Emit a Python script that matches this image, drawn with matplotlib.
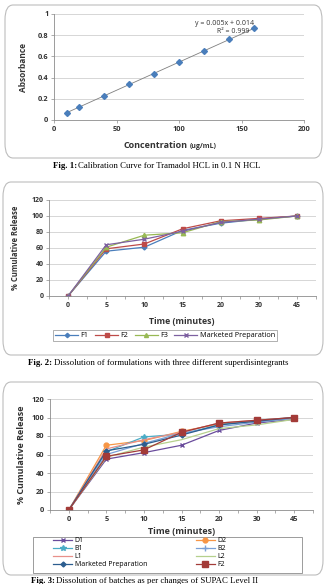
import matplotlib.pyplot as plt
import numpy as np
from matplotlib.patches import FancyBboxPatch, Rectangle

# Fig 1 data: calibration curve
conc = np.array([10, 20, 40, 60, 80, 100, 120, 140, 160])
absorb = np.array([0.068, 0.125, 0.225, 0.335, 0.437, 0.543, 0.652, 0.760, 0.866])

# Fig 2 / Fig 3 time points (categorical)
times = ['0', '5', '10', '15', '20', '30', '45']

# Fig 2 data
f1 = [0, 56, 61, 82, 91, 96, 100]
f2 = [0, 59, 65, 84, 94, 97, 100]
f3 = [0, 61, 76, 79, 93, 95, 100]
mkt = [0, 64, 71, 81, 92, 96, 100]

# Fig 3 data
d1 = [0, 55, 62, 70, 86, 94, 98]
d2 = [0, 70, 75, 85, 93, 96, 100]
b1 = [0, 63, 79, 82, 92, 97, 100]
b2 = [0, 60, 72, 83, 90, 95, 99]
l1 = [0, 66, 76, 84, 94, 97, 100]
l2 = [0, 57, 68, 76, 88, 92, 98]
mkt3 = [0, 64, 71, 81, 92, 96, 100]
f2_3 = [0, 58, 65, 84, 94, 97, 100]

plt.rcParams['font.family'] = ['Open Sans', 'DejaVu Sans']

W, H = 326, 584
fig = plt.figure(figsize=(W / 100, H / 100), dpi=100)


def fx(x):
    return x / W


def fy(y):
    return 1 - y / H


def add_axes(left, right, top, bottom):
    ax = fig.add_axes([fx(left), fy(bottom), fx(right - left), (bottom - top) / H])
    ax.patch.set_alpha(0)
    return ax


def box(left, right, top, bottom):
    p = FancyBboxPatch((fx(left), fy(bottom)), fx(right - left), (bottom - top) / H,
                       boxstyle='round,pad=0,rounding_size=0.025', transform=fig.transFigure,
                       facecolor='white', edgecolor='#bdbdbd', linewidth=0.8, zorder=-5)
    fig.patches.append(p)


def style(ax, fs=5):
    for s in ['top', 'right']:
        ax.spines[s].set_visible(False)
    for s in ['left', 'bottom']:
        ax.spines[s].set_color('#8c8c8c')
        ax.spines[s].set_linewidth(0.6)
    ax.grid(axis='y', color='#d0d0d0', linewidth=0.6)
    ax.set_axisbelow(True)
    ax.tick_params(labelsize=fs, length=2, width=0.5, color='#8c8c8c', pad=2)
    for t in ax.get_xticklabels() + ax.get_yticklabels():
        t.set_fontweight('bold')
        t.set_color('#333333')


def caption(xsplit, y, bold, rest):
    fig.text(fx(xsplit), fy(y), bold, ha='right', va='center', fontsize=6.3,
             family='Liberation Serif', fontweight='bold')
    fig.text(fx(xsplit + 1.5), fy(y), rest, ha='left', va='center', fontsize=6.3,
             family='Liberation Serif')


# ---------- Fig 1 ----------
box(5, 322, 5, 158)
ax1 = add_axes(54, 304, 14, 120)
coef = np.polyfit(conc, absorb, 1)
ax1.plot(conc, np.polyval(coef, conc), color='#7f7f7f', linewidth=0.6, zorder=2)
ax1.plot(conc, absorb, 'D', color='#4a7ebb', markersize=3, zorder=3)
ax1.set_xlim(0, 200)
ax1.set_ylim(0, 1)
ax1.set_xticks([0, 50, 100, 150, 200])
ax1.set_yticks([0, 0.2, 0.4, 0.6, 0.8, 1])
ax1.set_yticklabels(['0', '0.2', '0.4', '0.6', '0.8', '1'])
ax1.tick_params(axis='x', length=0)
style(ax1, 5.3)
ax1.text(160, 0.875, 'y = 0.005x + 0.014', ha='right', va='bottom', fontsize=5, color='#333333')
ax1.text(143, 0.87, 'R² = 0.999', ha='center', va='top', fontsize=5, color='#333333')
fig.text(fx(23), fy(67), 'Absorbance', rotation=90, ha='center', va='center',
         fontsize=6, fontweight='bold', color='#333333')
fig.text(fx(188), fy(146), 'Concentration', ha='right', va='center',
         fontsize=6.5, fontweight='bold', color='#333333')
fig.text(fx(190), fy(146.5), '(ug/mL)', ha='left', va='center',
         fontsize=5, fontweight='bold', color='#333333')
caption(77, 166, 'Fig. 1:', 'Calibration Curve for Tramadol HCL in 0.1 N HCL')

# ---------- Fig 2 ----------
box(3, 323, 182, 355)
ax2 = add_axes(49, 316, 200, 296)
x = np.arange(len(times))
ax2.plot(x, f1, '-D', color='#4a7ebb', markersize=2.5, linewidth=0.9, label='F1')
ax2.plot(x, f2, '-s', color='#be4b48', markersize=3.2, linewidth=0.9, label='F2')
ax2.plot(x, f3, '-^', color='#98b954', markersize=3.2, linewidth=0.9, label='F3')
ax2.plot(x, mkt, '-x', color='#7d60a0', markersize=3, linewidth=0.9, label='Marketed Preparation')
ax2.set_xlim(-0.5, 6.5)
ax2.set_ylim(0, 120)
ax2.set_yticks(range(0, 121, 20))
ax2.set_xticks(x)
ax2.set_xticklabels(times)
ax2.set_xticks(np.arange(-0.5, 7, 1), minor=True)
ax2.tick_params(axis='x', which='major', length=0)
ax2.tick_params(axis='x', which='minor', length=2, width=0.5, color='#8c8c8c')
style(ax2)
fig.text(fx(16), fy(248), '% Cumulative Release', rotation=90, ha='center', va='center',
         fontsize=5.5, fontweight='bold', color='#333333')
fig.text(fx(182), fy(322), 'Time (minutes)', ha='center', va='center',
         fontsize=6.3, fontweight='bold', color='#333333')
ax2.legend(loc='center', bbox_to_anchor=(fx(165), fy(335.5)), bbox_transform=fig.transFigure,
           ncol=4, fontsize=5.2, frameon=True, fancybox=False, edgecolor='#8c8c8c',
           handlelength=3.2, handletextpad=0.3, columnspacing=0.9, borderpad=0.3,
           markerscale=0.9).get_frame().set_linewidth(0.6)
caption(52, 363, 'Fig. 2:', 'Dissolution of formulations with three different superdisintegrants')

# ---------- Fig 3 ----------
box(3, 323, 382, 575)
ax3 = add_axes(50, 313, 399, 510)
ax3.plot(x, d1, '-x', color='#6a4c9c', markersize=3, linewidth=0.9, label='D1')
ax3.plot(x, d2, '-o', color='#f79646', markersize=3.5, linewidth=0.9, label='D2')
ax3.plot(x, b1, '-*', color='#4bacc6', markersize=4, linewidth=0.9, label='B1')
ax3.plot(x, b2, '-+', color='#7aa0d6', markersize=4, linewidth=0.9, label='B2')
ax3.plot(x, l1, '-', color='#e8908a', linewidth=0.9, label='L1')
ax3.plot(x, l2, '-', color='#b5d08d', linewidth=0.9, label='L2')
ax3.plot(x, mkt3, '-D', color='#2c5d8f', markersize=2.5, linewidth=0.9, label='Marketed Preparation')
ax3.plot(x, f2_3, '-s', color='#a33b38', markersize=5, linewidth=0.9, label='F2')
ax3.set_xlim(-0.5, 6.5)
ax3.set_ylim(0, 120)
ax3.set_yticks(range(0, 121, 20))
ax3.set_xticks(x)
ax3.set_xticklabels(times)
ax3.set_xticks(np.arange(-0.5, 7, 1), minor=True)
ax3.tick_params(axis='x', which='major', length=0)
ax3.tick_params(axis='x', which='minor', length=2, width=0.5, color='#8c8c8c')
style(ax3, 5.3)
fig.text(fx(22), fy(455), '% Cumulative Release', rotation=90, ha='center', va='center',
         fontsize=6.5, fontweight='bold', color='#333333')
fig.text(fx(182), fy(532), 'Time (minutes)', ha='center', va='center',
         fontsize=6.5, fontweight='bold', color='#333333')
# legend frame drawn separately, entries placed inside
fig.patches.append(Rectangle((fx(33), fy(573)), fx(269), 36 / H, transform=fig.transFigure,
                             facecolor='white', edgecolor='#8c8c8c', linewidth=0.6, zorder=2))
h, lab = ax3.get_legend_handles_labels()
order = [0, 2, 4, 6, 1, 3, 5, 7]
leg3 = fig.legend([h[i] for i in order], [lab[i] for i in order], loc='upper left',
                  bbox_to_anchor=(fx(53), fy(537.5)), bbox_transform=fig.transFigure,
                  ncol=2, fontsize=5, frameon=False, handlelength=2.8,
                  handletextpad=0.3, borderpad=0, labelspacing=0.12, borderaxespad=0,
                  columnspacing=7.0)
leg3.set_zorder(3)
caption(55, 581, 'Fig. 3:', 'Dissolution of batches as per changes of SUPAC Level II')

fig.savefig('out.png', dpi=100)
